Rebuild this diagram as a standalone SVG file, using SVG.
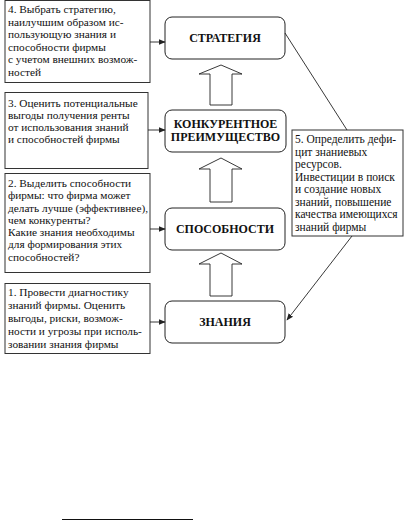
<svg xmlns="http://www.w3.org/2000/svg" width="405" height="521" viewBox="0 0 405 521">
<defs>
<style>
.box{fill:#fff;stroke:#333;stroke-width:1}
.rbox{fill:#fff;stroke:#222;stroke-width:1}
.t{font-family:"Liberation Serif","DejaVu Serif","Times New Roman",serif;font-size:11.3px;fill:#111}
.t5{font-family:"Liberation Serif","DejaVu Serif","Times New Roman",serif;font-size:11.5px;fill:#111}
.b{font-family:"Liberation Serif","DejaVu Serif","Times New Roman",serif;font-size:12px;font-weight:bold;fill:#111;text-anchor:middle}
.ln{stroke:#222;stroke-width:0.9;fill:none}
.blk{fill:#fff;stroke:#222;stroke-width:0.9}
</style>
<marker id="ah" viewBox="0 0 10 10" refX="9" refY="5" markerWidth="7" markerHeight="7" orient="auto" markerUnits="userSpaceOnUse">
<path d="M0,1 L10,5 L0,9 Z" fill="#222"/>
</marker>
</defs>
<rect width="405" height="521" fill="#fff"/>
<g id="step4">
<rect class="box" x="5" y="0.5" width="145" height="82"/>
<text class="t" x="8" y="13">4. Выбрать стратегию,</text>
<text class="t" x="8" y="25.5">наилучшим образом ис-</text>
<text class="t" x="8" y="38">пользующую знания и</text>
<text class="t" x="8" y="50.5">способности фирмы</text>
<text class="t" x="8" y="63">с учетом внешних возмож-</text>
<text class="t" x="8" y="75.5">ностей</text>
</g>
<g id="step3">
<rect class="box" x="5" y="92.5" width="143" height="76"/>
<text class="t" x="8" y="107">3. Оценить потенциальные</text>
<text class="t" x="8" y="119">выгоды получения ренты</text>
<text class="t" x="8" y="131">от использования знаний</text>
<text class="t" x="8" y="143">и способностей фирмы</text>
</g>
<g id="step2">
<rect class="box" x="5" y="173.5" width="145" height="99"/>
<text class="t" x="8" y="187">2. Выделить способности</text>
<text class="t" x="8" y="199">фирмы: что фирма может</text>
<text class="t" x="8" y="211.5">делать лучше (эффективнее),</text>
<text class="t" x="8" y="223.5">чем конкуренты?</text>
<text class="t" x="8" y="236">Какие знания необходимы</text>
<text class="t" x="8" y="248">для формирования этих</text>
<text class="t" x="8" y="260.5">способностей?</text>
</g>
<g id="step1">
<rect class="box" x="5" y="283.5" width="145" height="70"/>
<text class="t" x="8" y="296">1. Провести диагностику</text>
<text class="t" x="8" y="309">знаний фирмы. Оценить</text>
<text class="t" x="8" y="322">выгоды, риски, возмож-</text>
<text class="t" x="8" y="335">ности и угрозы при исполь-</text>
<text class="t" x="8" y="348">зовании знания фирмы</text>
</g>
<g id="step5">
<rect class="box" x="292" y="130" width="111" height="106"/>
<text class="t5" x="295" y="143">5. Определить дефи-</text>
<text class="t5" x="295" y="155.5">цит знаниевых</text>
<text class="t5" x="295" y="168">ресурсов.</text>
<text class="t5" x="295" y="180.5">Инвестиции в поиск</text>
<text class="t5" x="295" y="193">и создание новых</text>
<text class="t5" x="295" y="205.5">знаний, повышение</text>
<text class="t5" x="295" y="218">качества имеющихся</text>
<text class="t5" x="295" y="230.5">знаний фирмы</text>
</g>
<g id="strategy">
<rect class="rbox" x="165" y="17" width="120" height="42" rx="7"/>
<text class="b" x="225" y="42">СТРАТЕГИЯ</text>
</g>
<g id="advantage">
<rect class="rbox" x="165" y="110" width="121" height="42" rx="7"/>
<text class="b" x="225.5" y="128">КОНКУРЕНТНОЕ</text>
<text class="b" x="225.5" y="141">ПРЕИМУЩЕСТВО</text>
</g>
<g id="capabilities">
<rect class="rbox" x="165" y="208" width="120" height="42" rx="7"/>
<text class="b" x="225" y="233">СПОСОБНОСТИ</text>
</g>
<g id="knowledge">
<rect class="rbox" x="165" y="301" width="120" height="42" rx="7"/>
<text class="b" x="225" y="326">ЗНАНИЯ</text>
</g>
<g id="connectors">
<path class="blk" d="M210,105 L210,74 L199,74 L221,65 L242,74 L232,74 L232,105 Z"/>
<path class="blk" d="M210,202 L210,169 L199,169 L221,158 L242,169 L232,169 L232,202 Z"/>
<path class="blk" d="M210,296 L210,264 L199,264 L221,253 L242,264 L232,264 L232,296 Z"/>
<line class="ln" x1="150" y1="42" x2="165" y2="42" marker-end="url(#ah)"/>
<line class="ln" x1="148" y1="130" x2="165" y2="130" marker-end="url(#ah)"/>
<line class="ln" x1="150" y1="229" x2="165" y2="229" marker-end="url(#ah)"/>
<line class="ln" x1="150" y1="322" x2="165" y2="322" marker-end="url(#ah)"/>
<line class="ln" x1="285" y1="33" x2="347" y2="130"/>
<line class="ln" x1="352" y1="236" x2="287" y2="320" marker-end="url(#ah)"/>
</g>
<line x1="62" y1="519.5" x2="193" y2="519.5" stroke="#111" stroke-width="1"/>
</svg>
